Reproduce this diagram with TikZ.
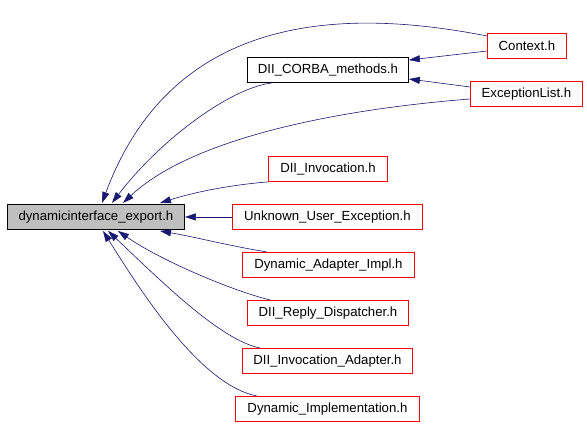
\documentclass[tikz,border=0pt]{standalone}
\usepackage{fontspec}
\setmainfont{Liberation Sans}
\usetikzlibrary{arrows.meta,calc}
\definecolor{edgeblue}{HTML}{191970}
\definecolor{boxgray}{HTML}{BFBFBF}
\tikzset{
  box/.style={draw, line width=0.9pt, anchor=north west, minimum height=25pt, inner sep=0pt,
    font=\fontsize{13.2}{15}\selectfont},
  redbox/.style={box, draw=red},
  blackbox/.style={box, draw=black},
  mainbox/.style={box, draw=black, fill=boxgray},
  dep/.style={draw=edgeblue, line width=0.6pt, -{Triangle[length=11pt,width=7pt]}},
}
\begin{document}
\begin{tikzpicture}[x=1pt,y=-1pt]
\useasboundingbox (0,0) rectangle (587,425);
% nodes
\node[mainbox, minimum width=177pt] (main) at (7,204) {dynamicinterface\_export.h};
\node[redbox, minimum width=79pt] (ctx) at (487,33) {Context.h};
\node[blackbox, minimum width=161pt] (corba) at (247,57) {DII\_CORBA\_methods.h};
\node[redbox, minimum width=112pt] (exl) at (470,81) {ExceptionList.h};
\node[redbox, minimum width=119pt] (inv) at (268,156) {DII\_Invocation.h};
\node[redbox, minimum width=190pt] (uue) at (232,204) {Unknown\_User\_Exception.h};
\node[redbox, minimum width=172pt] (dai) at (242,252) {Dynamic\_Adapter\_Impl.h};
\node[redbox, minimum width=161pt] (rdp) at (247,300) {DII\_Reply\_Dispatcher.h};
\node[redbox, minimum width=170pt] (iad) at (242,348) {DII\_Invocation\_Adapter.h};
\node[redbox, minimum width=184pt] (dim) at (235,396) {Dynamic\_Implementation.h};
% edges to main
\draw[dep] ($(ctx.north west)+(0,3)$) .. controls (330,5) and (170,20) .. ($(main.north west)+(95,-1)$);
\draw[dep] ($(corba.south west)+(25,0)$) .. controls (230,88) and (160,140) .. ($(main.north west)+(105,-1)$);
\draw[dep] ($(exl.north west)+(0,18)$) .. controls (330,110) and (190,140) .. ($(main.north west)+(116,-1)$);
\draw[dep] ($(inv.south west)+(0,0)$) .. controls (230,185) and (195,192) .. ($(main.north west)+(153,-1)$);
\draw[dep] (uue.west) -- (main.east);
\draw[dep] ($(dai.north west)+(25,0)$) .. controls (230,246) and (195,237) .. ($(main.south west)+(153,1)$);
\draw[dep] ($(rdp.north west)+(23,0)$) .. controls (230,290) and (160,260) .. ($(main.south west)+(111,1)$);
\draw[dep] ($(iad.north west)+(18,0)$) .. controls (220,340) and (160,280) .. ($(main.south west)+(101,1)$);
\draw[dep] ($(dim.north west)+(22,0)$) .. controls (200,385) and (140,290) .. ($(main.south west)+(96,1)$);
% edges to DII_CORBA_methods
\draw[dep] ($(ctx.north west)+(0,18)$) -- ($(corba.north east)+(0,3)$);
\draw[dep] ($(exl.north west)+(0,6)$) -- ($(corba.north east)+(0,22)$);
\end{tikzpicture}
\end{document}
